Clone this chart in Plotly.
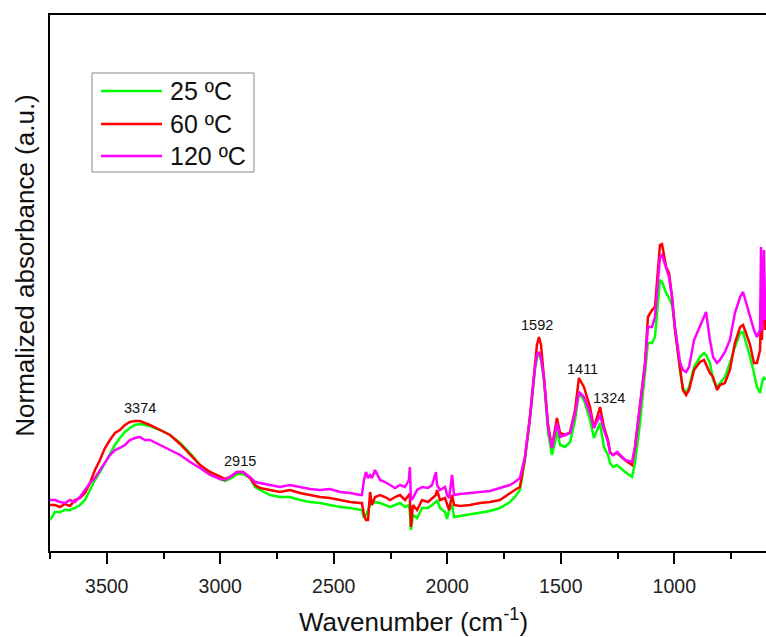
import plotly.graph_objects as go

# Wavenumber grid (cm-1), shared by all three spectra
wavenumber = [
    3750, 3728, 3706, 3684, 3662, 3640, 3618, 3596, 3574, 3552,
    3530, 3508, 3486, 3464, 3442, 3420, 3398, 3376, 3354, 3332,
    3310, 3265, 3221, 3177, 3133, 3089, 3045, 3001, 2979, 2957,
    2926, 2900, 2869, 2847, 2825, 2781, 2737, 2693, 2649, 2605,
    2561, 2517, 2472, 2428, 2384, 2376, 2367, 2358, 2349, 2340,
    2332, 2318, 2296, 2274, 2252, 2230, 2208, 2186, 2169, 2165,
    2160, 2151, 2133, 2111, 2085, 2067, 2050, 2045, 2032, 2010,
    2001, 1992, 1979, 1970, 1944, 1900, 1856, 1812, 1768, 1724,
    1702, 1680, 1658, 1636, 1614, 1605, 1596, 1587, 1574, 1556,
    1539, 1525, 1517, 1503, 1481, 1459, 1437, 1420, 1398, 1371,
    1354, 1327, 1310, 1292, 1283, 1270, 1252, 1217, 1186, 1173,
    1151, 1129, 1116, 1098, 1085, 1063, 1054, 1036, 1023, 1010,
    997, 975, 962, 948, 935, 913, 887, 869, 860, 843,
    829, 812, 799, 777, 755, 733, 710, 697, 684, 666,
    649, 636, 622, 618, 614, 605, 600,
]

abs_25C = [
    0.062, 0.078, 0.078, 0.082, 0.082, 0.086, 0.092, 0.102, 0.122, 0.142,
    0.158, 0.176, 0.192, 0.212, 0.226, 0.238, 0.246, 0.252, 0.254, 0.252,
    0.250, 0.242, 0.232, 0.216, 0.196, 0.172, 0.154, 0.144, 0.140, 0.144,
    0.154, 0.154, 0.146, 0.128, 0.122, 0.112, 0.108, 0.108, 0.102, 0.098,
    0.096, 0.092, 0.088, 0.086, 0.082, 0.082, 0.066, 0.072, 0.082, 0.092,
    0.094, 0.098, 0.096, 0.092, 0.088, 0.092, 0.096, 0.088, 0.092, 0.078,
    0.042, 0.072, 0.066, 0.086, 0.086, 0.092, 0.098, 0.102, 0.086, 0.078,
    0.064, 0.082, 0.092, 0.068, 0.070, 0.074, 0.078, 0.080, 0.086, 0.098,
    0.108, 0.122, 0.182, 0.262, 0.362, 0.386, 0.394, 0.382, 0.342, 0.238,
    0.192, 0.218, 0.242, 0.212, 0.208, 0.218, 0.262, 0.316, 0.302, 0.262,
    0.226, 0.256, 0.208, 0.192, 0.176, 0.168, 0.172, 0.158, 0.148, 0.176,
    0.256, 0.362, 0.416, 0.416, 0.428, 0.542, 0.538, 0.516, 0.506, 0.492,
    0.448, 0.362, 0.326, 0.316, 0.328, 0.368, 0.388, 0.396, 0.392, 0.376,
    0.342, 0.328, 0.336, 0.348, 0.376, 0.408, 0.436, 0.438, 0.416, 0.388,
    0.356, 0.328, 0.316, 0.326, 0.336, 0.348, 0.342,
]

abs_60C = [
    0.092, 0.092, 0.088, 0.094, 0.090, 0.102, 0.106, 0.116, 0.136, 0.162,
    0.182, 0.206, 0.222, 0.236, 0.242, 0.252, 0.258, 0.260, 0.260, 0.256,
    0.252, 0.242, 0.232, 0.214, 0.192, 0.172, 0.158, 0.148, 0.144, 0.148,
    0.158, 0.158, 0.146, 0.132, 0.126, 0.122, 0.118, 0.122, 0.116, 0.112,
    0.108, 0.106, 0.102, 0.098, 0.096, 0.096, 0.072, 0.062, 0.062, 0.118,
    0.092, 0.108, 0.112, 0.108, 0.102, 0.108, 0.112, 0.102, 0.112, 0.108,
    0.048, 0.092, 0.082, 0.102, 0.098, 0.106, 0.112, 0.122, 0.102, 0.106,
    0.092, 0.082, 0.112, 0.092, 0.090, 0.092, 0.096, 0.098, 0.102, 0.116,
    0.122, 0.128, 0.186, 0.268, 0.378, 0.412, 0.428, 0.412, 0.346, 0.252,
    0.208, 0.242, 0.266, 0.236, 0.232, 0.238, 0.282, 0.346, 0.328, 0.288,
    0.246, 0.288, 0.248, 0.222, 0.198, 0.192, 0.196, 0.182, 0.172, 0.208,
    0.288, 0.376, 0.468, 0.482, 0.488, 0.612, 0.614, 0.568, 0.556, 0.508,
    0.442, 0.362, 0.322, 0.312, 0.322, 0.362, 0.378, 0.382, 0.372, 0.356,
    0.348, 0.322, 0.332, 0.336, 0.362, 0.416, 0.448, 0.452, 0.436, 0.412,
    0.376, 0.376, 0.402, 0.502, 0.422, 0.552, 0.442,
]

abs_120C = [
    0.102, 0.102, 0.098, 0.096, 0.102, 0.098, 0.108, 0.122, 0.136, 0.146,
    0.162, 0.178, 0.192, 0.202, 0.206, 0.212, 0.222, 0.226, 0.228, 0.222,
    0.222, 0.212, 0.202, 0.192, 0.178, 0.166, 0.152, 0.144, 0.142, 0.148,
    0.158, 0.158, 0.148, 0.138, 0.136, 0.132, 0.128, 0.132, 0.128, 0.124,
    0.122, 0.124, 0.118, 0.116, 0.112, 0.112, 0.142, 0.158, 0.146, 0.152,
    0.146, 0.162, 0.142, 0.138, 0.132, 0.126, 0.132, 0.128, 0.142, 0.168,
    0.102, 0.106, 0.122, 0.128, 0.126, 0.132, 0.158, 0.132, 0.122, 0.128,
    0.112, 0.106, 0.152, 0.112, 0.114, 0.116, 0.118, 0.120, 0.126, 0.132,
    0.138, 0.146, 0.188, 0.266, 0.366, 0.392, 0.398, 0.386, 0.346, 0.248,
    0.206, 0.236, 0.256, 0.228, 0.232, 0.236, 0.276, 0.318, 0.308, 0.276,
    0.246, 0.272, 0.242, 0.218, 0.196, 0.192, 0.198, 0.182, 0.178, 0.208,
    0.288, 0.372, 0.448, 0.448, 0.468, 0.588, 0.592, 0.568, 0.548, 0.508,
    0.448, 0.378, 0.362, 0.358, 0.368, 0.422, 0.448, 0.468, 0.478, 0.422,
    0.388, 0.376, 0.382, 0.398, 0.422, 0.476, 0.508, 0.518, 0.496, 0.468,
    0.442, 0.428, 0.442, 0.608, 0.442, 0.602, 0.462,
]

series_names = ["25 ºC", "60 ºC", "120 ºC"]
series_colors = ["#00ff00", "#ff0000", "#ff00ff"]

# Peak labels: (label wavenumber, label height)
peak_labels = [3374, 2915, 1592, 1411, 1324]
peak_label_y = [0.286, 0.180, 0.452, 0.364, 0.306]
peak_label_shift = [5, 0, -3, 2, 8]

font_family = "Arial, Liberation Sans, sans-serif"

fig = go.Figure()
for name, ys, col in zip(series_names, [abs_25C, abs_60C, abs_120C], series_colors):
    fig.add_trace(go.Scatter(
        x=wavenumber, y=ys, mode="lines", name=name,
        line=dict(color=col, width=2.5), showlegend=False,
    ))

for wn, yy, sh in zip(peak_labels, peak_label_y, peak_label_shift):
    fig.add_annotation(x=wn, y=yy, text=str(wn), showarrow=False, xshift=sh,
                       xanchor="center", yanchor="middle",
                       font=dict(size=14.5, family=font_family, color="#111"))

fig.add_annotation(xref="paper", yref="paper", x=0.508, y=-0.129,
                   xanchor="center", yanchor="middle",
                   text="Wavenumber (cm<sup>-1</sup>)", showarrow=False,
                   font=dict(size=26, family=font_family, color="#111"))
fig.add_annotation(xref="paper", yref="paper", x=-0.035, y=0.534,
                   xanchor="center", yanchor="middle",
                   text="Normalized absorbance (a.u.)", showarrow=False, textangle=-90,
                   font=dict(size=26, family=font_family, color="#111"))

# Legend box (drawn in paper space)
fig.add_shape(type="rect", xref="paper", yref="paper",
              x0=0.0587, x1=0.2849, y0=0.7071, y1=0.8918,
              line=dict(color="#888", width=1), fillcolor="white", layer="above")
legend_rows = [0.8582, 0.7966, 0.7369]
for name, col, ry in zip(series_names, series_colors, legend_rows):
    fig.add_shape(type="line", xref="paper", yref="paper",
                  x0=0.0712, x1=0.1564, y0=ry, y1=ry,
                  line=dict(color=col, width=2.5), layer="above")
    fig.add_annotation(xref="paper", yref="paper", x=0.1648, y=ry,
                       xanchor="left", yanchor="middle", text=name, showarrow=False,
                       font=dict(size=25, family=font_family, color="#111"))

fig.update_layout(
    width=766, height=637,
    margin=dict(l=50, r=0, t=15, b=86, autoexpand=False),
    paper_bgcolor="white", plot_bgcolor="white",
    font=dict(family=font_family, color="#111"),
    showlegend=False,
    xaxis=dict(
        range=[3750, 596], showgrid=False, zeroline=False, automargin=False,
        showline=True, linecolor="black", linewidth=2, mirror=True,
        ticks="outside", ticklen=11, tickwidth=1.5, tickcolor="black",
        tick0=0, dtick=500, ticklabelstandoff=6,
        tickfont=dict(size=19.5, family=font_family, color="#222"),
        minor=dict(ticks="outside", ticklen=6, tickwidth=1.5, tickcolor="black", dtick=250, tick0=0, showgrid=False),
    ),
    yaxis=dict(
        range=[0, 1.072], showgrid=False, zeroline=False, automargin=False,
        showline=True, linecolor="black", linewidth=2, mirror=False,
        showticklabels=False, ticks="",
    ),
)

fig.write_html("out.html", config={"displayModeBar": False},
               post_script="document.body.style.margin='0';document.body.style.overflow='hidden';")
